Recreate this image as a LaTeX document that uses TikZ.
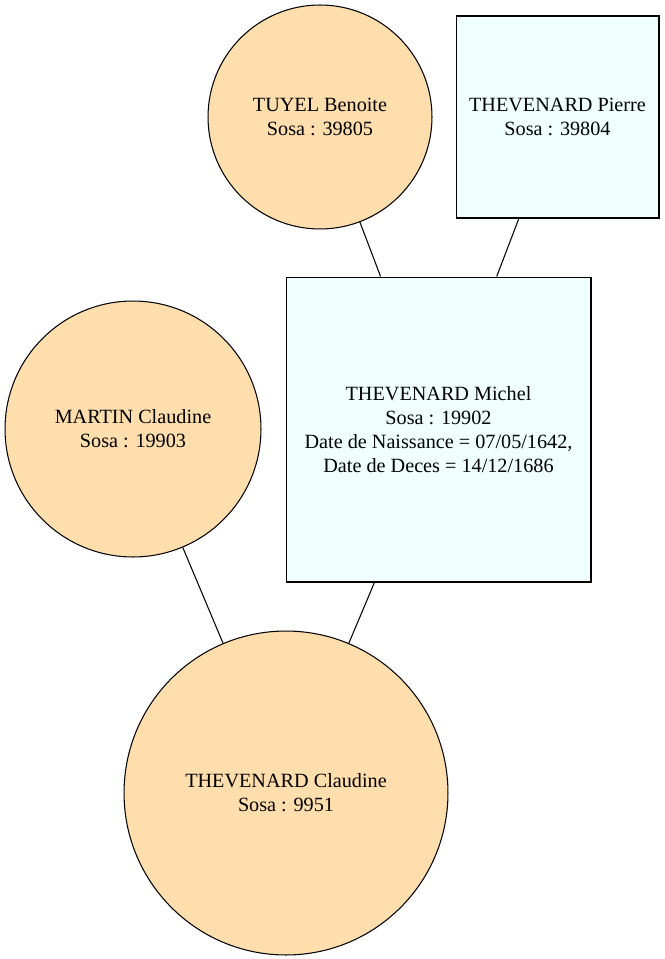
\documentclass[tikz,border=0pt]{standalone}
\usepackage{fontspec}
\setmainfont{Liberation Serif}
\usetikzlibrary{shapes}
\definecolor{personf}{HTML}{FFDEAD}
\definecolor{personm}{HTML}{F0FFFF}

\begin{document}
\begin{tikzpicture}[x=0.02cm, y=-0.02cm, line width=0.6pt,
   woman/.style={draw=black, fill=personf, circle, inner sep=0pt, align=center},
   man/.style={draw=black, fill=personm, rectangle, inner sep=0pt, align=center},
   every node/.append style={font=\fontsize{11.5}{13.6}\selectfont}]
   \useasboundingbox (0,0) rectangle (664,959);
   \node[woman, minimum size=4.48cm] (benoite) at (320,117) {TUYEL Benoite\\Sosa : 39805};
   \node[man, minimum width=4.06cm, minimum height=4.04cm] (pierre) at (557.5,117) {THEVENARD Pierre\\Sosa : 39804};
   \node[man, minimum size=6.1cm] (michel) at (438.5,429.5) {THEVENARD Michel\\Sosa : 19902\\Date de Naissance = 07/05/1642,\\Date de Deces = 14/12/1686};
   \node[woman, minimum size=5.12cm] (martin) at (133,429) {MARTIN Claudine\\Sosa : 19903};
   \node[woman, minimum size=6.48cm] (claudine) at (286,793) {THEVENARD Claudine\\Sosa : 9951};
   \draw (benoite) -- (michel);
   \draw (pierre) -- (michel);
   \draw (martin) -- (claudine);
   \draw (michel) -- (claudine);
\end{tikzpicture}
\end{document}
